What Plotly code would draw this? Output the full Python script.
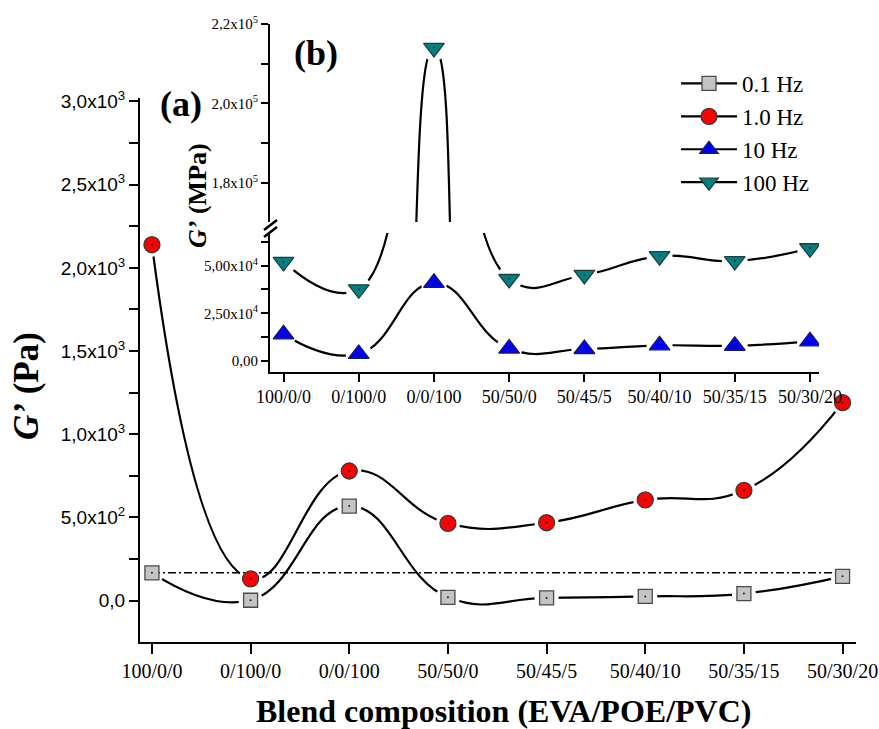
import plotly.graph_objects as go

# ---------------- data ----------------
categories = ["100/0/0", "0/100/0", "0/0/100", "50/50/0", "50/45/5",
              "50/40/10", "50/35/15", "50/30/20"]
g_0_1hz = [167, 2, 568, 20, 16, 25, 42, 146]          # Pa, main plot
g_1_0hz = [2139, 131, 779, 464, 468, 605, 663, 1190]  # Pa, main plot
g_10hz = [14000, 3700, 41000, 6500, 6300, 8200, 8000, 10300]        # inset
g_100hz = [52000, 37600, 214000, 43000, 45100, 55000, 52400, 59100]  # inset

main_yticks = [0, 500, 1000, 1500, 2000, 2500, 3000]
main_yticklabels = ["0,0", "5,0x10<sup>2</sup>", "1,0x10<sup>3</sup>", "1,5x10<sup>3</sup>",
                    "2,0x10<sup>3</sup>", "2,5x10<sup>3</sup>", "3,0x10<sup>3</sup>"]
inset_low_ticks = [0, 25000, 50000]
inset_low_labels = ["0,00", "2,50x10<sup>4</sup>", "5,00x10<sup>4</sup>"]
inset_up_ticks = [180000, 200000, 220000]
inset_up_labels = ["1,8x10<sup>5</sup>", "2,0x10<sup>5</sup>", "2,2x10<sup>5</sup>"]

W, H = 879, 729
SERIF = "Liberation Serif, Times New Roman, serif"
SANS = "Liberation Sans, Arial, sans-serif"


def px(x):
    return x / W


def py(y):
    return (H - y) / H


fig = go.Figure()

sty = {
    "0.1 Hz": dict(symbol="square", color="#c4c4c4", line="#4a4a4a", size=14),
    "1.0 Hz": dict(symbol="circle", color="#ff0000", line="#3a3a3a", size=16),
    "10 Hz": dict(symbol="triangle-up", color="#0000ff", line="#1a1a5a", size=18),
    "100 Hz": dict(symbol="triangle-down", color="#008080", line="#1f3f3f", size=18),
}


def add_series(x, y, xa, ya, halo=24):
    fig.add_trace(go.Scatter(x=x, y=y, mode="lines", line=dict(color="black", width=2.2,
                  shape="spline", smoothing=1.3), xaxis=xa, yaxis=ya, showlegend=False,
                  hoverinfo="skip"))
    fig.add_trace(go.Scatter(x=x, y=y, mode="markers", marker=dict(symbol="circle",
                  size=halo, color="white", line=dict(width=0)), xaxis=xa, yaxis=ya,
                  showlegend=False, hoverinfo="skip"))


def add_markers(x, y, name, xa, ya):
    s = sty[name]
    fig.add_trace(go.Scatter(x=x, y=y, mode="markers", name=name,
                  marker=dict(symbol=s["symbol"], size=s["size"], color=s["color"],
                              line=dict(color=s["line"], width=1.3)),
                  xaxis=xa, yaxis=ya, showlegend=False))
    fig.add_trace(go.Scatter(x=x, y=y, mode="markers",
                  marker=dict(symbol="circle", size=2, color="#202020"),
                  xaxis=xa, yaxis=ya, showlegend=False, hoverinfo="skip"))


# main plot
add_series(categories, g_0_1hz, "x", "y")
add_series(categories, g_1_0hz, "x", "y")
fig.add_trace(go.Scatter(x=[categories[0], categories[-1]], y=[g_0_1hz[0], g_0_1hz[0]],
              mode="lines", line=dict(color="black", width=1.6, dash="8px,3px,2px,3px"),
              showlegend=False, hoverinfo="skip"))
add_markers(categories, g_0_1hz, "0.1 Hz", "x", "y")
add_markers(categories, g_1_0hz, "1.0 Hz", "x", "y")

# inset: lower part (x2, y2) and upper part above the axis break (x3, y3)
for xa, ya in (("x2", "y2"), ("x3", "y3")):
    add_series(categories, g_10hz, xa, ya, halo=26)
    add_series(categories, g_100hz, xa, ya, halo=26)
for xa, ya in (("x2", "y2"), ("x3", "y3")):
    add_markers(categories, g_10hz, "10 Hz", xa, ya)
    add_markers(categories, g_100hz, "100 Hz", xa, ya)

# legend-only traces
for name in ["0.1 Hz", "1.0 Hz", "10 Hz", "100 Hz"]:
    s = sty[name]
    fig.add_trace(go.Scatter(x=[None], y=[None], mode="lines+markers", name=name,
                  line=dict(color="black", width=2.2),
                  marker=dict(symbol=s["symbol"], size=s["size"], color=s["color"],
                              line=dict(color=s["line"], width=1.3)),
                  showlegend=True))

axis_common = dict(showline=True, linecolor="black", linewidth=2, ticks="outside",
                   tickcolor="black", tickwidth=2, showgrid=False, zeroline=False,
                   mirror=False)

fig.update_layout(
    width=W, height=H, margin=dict(l=0, r=0, t=0, b=0, autoexpand=False),
    plot_bgcolor="rgba(0,0,0,0)", paper_bgcolor="white",
    xaxis=dict(**axis_common, domain=[px(140), px(856)], range=[-0.121, 7.136],
               type="category", ticklen=10, anchor="y",
               tickfont=dict(family=SERIF, size=20, color="black")),
    yaxis=dict(**axis_common, domain=[py(641.7), py(98)], range=[-247, 3021],
               tickvals=main_yticks, ticktext=main_yticklabels, ticklen=9, anchor="x",
               minor=dict(dtick=250, tick0=0, ticks="outside", ticklen=9, tickwidth=2,
                          tickcolor="black"),
               tickfont=dict(family=SANS, size=19, color="black")),
    xaxis2=dict(**axis_common, domain=[px(270), px(819)], range=[-0.18, 7.12],
                type="category", ticklen=8, anchor="y2",
                tickfont=dict(family=SERIF, size=18, color="black")),
    yaxis2=dict(**axis_common, domain=[py(371.7), py(233)], range=[-5600, 67100],
                tickvals=inset_low_ticks, ticktext=inset_low_labels, ticklen=7, anchor="x2",
                minor=dict(dtick=12500, tick0=0, ticks="outside", ticklen=7, tickwidth=2,
                           tickcolor="black"),
                tickfont=dict(family=SERIF, size=15, color="black")),
    xaxis3=dict(domain=[px(270), px(819)], range=[-0.18, 7.12], type="category",
                visible=False, anchor="y3", matches="x2"),
    yaxis3=dict(**axis_common, domain=[py(222), py(24)], range=[170100, 220000],
                tickvals=inset_up_ticks, ticktext=inset_up_labels, ticklen=7, anchor="x3",
                minor=dict(dtick=10000, tick0=0, ticks="outside", ticklen=7, tickwidth=2,
                           tickcolor="black"),
                tickfont=dict(family=SERIF, size=15, color="black")),
    legend=dict(x=px(676), y=py(62), xanchor="left", yanchor="top",
                bgcolor="rgba(0,0,0,0)", font=dict(family=SERIF, size=23, color="black"),
                itemwidth=56, tracegroupgap=0, traceorder="normal"),
    showlegend=True,
)

# axis break marks on inset y axis
for dy in (0, 7):
    fig.add_shape(type="line", xref="paper", yref="paper",
                  x0=px(264), y0=py(230 + dy), x1=px(277), y1=py(220 + dy),
                  line=dict(color="black", width=2.5))

ann = [
    dict(text="<b>Blend composition (EVA/POE/PVC)</b>", x=px(503), y=py(711), size=32),
    dict(text="<b><i>G’</i> (Pa)</b>", x=px(27), y=py(386), size=35, angle=-90),
    dict(text="<b><i>G’</i> (MPa)</b>", x=px(198), y=py(196), size=26, angle=-90),
    dict(text="<b>(a)</b>", x=px(181), y=py(104), size=36),
    dict(text="<b>(b)</b>", x=px(316), y=py(53), size=36),
]
for a in ann:
    fig.add_annotation(text=a["text"], x=a["x"], y=a["y"], xref="paper", yref="paper",
                       showarrow=False, xanchor="center", yanchor="middle",
                       textangle=a.get("angle", 0),
                       font=dict(family=SERIF, size=a["size"], color="black"))

fig.write_html("out.html")
